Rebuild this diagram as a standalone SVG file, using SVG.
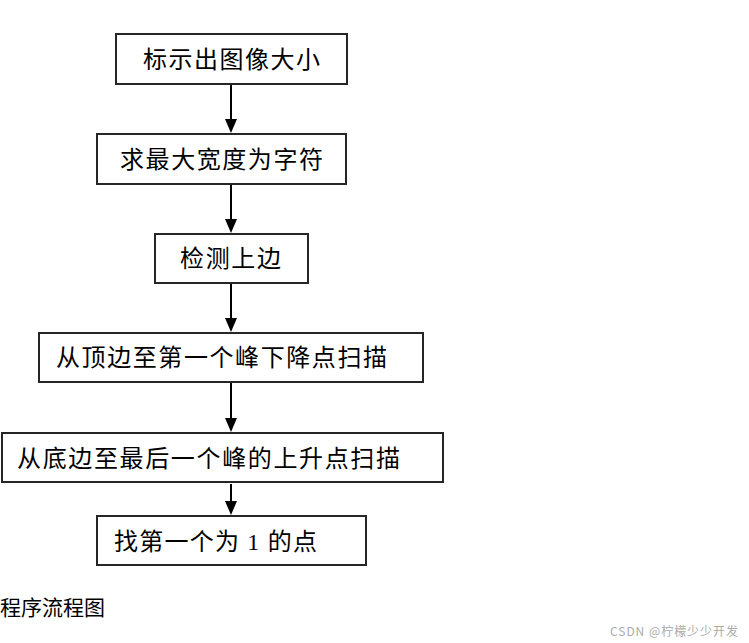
<svg xmlns="http://www.w3.org/2000/svg" width="749" height="643" viewBox="0 0 749 643">
<style>
.box{fill:#fff;stroke:#262626;stroke-width:2}
.t{font-family:"Liberation Serif","Noto Sans CJK SC",serif;font-size:24px;fill:#000}
.c{stroke:#000;stroke-width:2;fill:none}
</style>
<rect width="749" height="643" fill="#fff"/>
<g id="connectors">
<line class="c" x1="231" y1="85" x2="231" y2="120"/>
<path d="M225,119 L237,119 L231,133 Z"/>
<line class="c" x1="231" y1="185" x2="231" y2="220"/>
<path d="M225,219 L237,219 L231,233 Z"/>
<line class="c" x1="231" y1="284" x2="231" y2="319"/>
<path d="M225,318 L237,318 L231,332 Z"/>
<line class="c" x1="231" y1="383" x2="231" y2="419"/>
<path d="M225,418 L237,418 L231,432 Z"/>
<line class="c" x1="231" y1="484" x2="231" y2="502"/>
<path d="M225,501 L237,501 L231,515 Z"/>
</g>
<g id="n1"><rect class="box" x="116" y="34" width="231" height="50"/><text class="t" x="143" y="68" textLength="177">标示出图像大小</text></g>
<g id="n2"><rect class="box" x="97" y="134" width="249" height="50"/><text class="t" x="120" y="168" textLength="203">求最大宽度为字符</text></g>
<g id="n3"><rect class="box" x="155" y="234" width="153" height="49"/><text class="t" x="180" y="267" textLength="101">检测上边</text></g>
<g id="n4"><rect class="box" x="39" y="333" width="384" height="49"/><text class="t" x="56" y="366" textLength="331">从顶边至第一个峰下降点扫描</text></g>
<g id="n5"><rect class="box" x="2" y="433" width="441" height="49"/><text class="t" x="17" y="467" textLength="383">从底边至最后一个峰的上升点扫描</text></g>
<g id="n6"><rect class="box" x="97" y="516" width="269" height="49"/><text class="t" x="114" y="550" textLength="203">找第一个为 1 的点</text></g>
<text x="0" y="615" style="font-family:'Noto Sans CJK SC',sans-serif;font-size:21px;fill:#000">程序流程图</text>
<text x="610" y="636" textLength="128" style="font-family:'Noto Sans CJK SC',sans-serif;font-size:12px;fill:#aaa">CSDN @柠檬少少开发</text>
</svg>
